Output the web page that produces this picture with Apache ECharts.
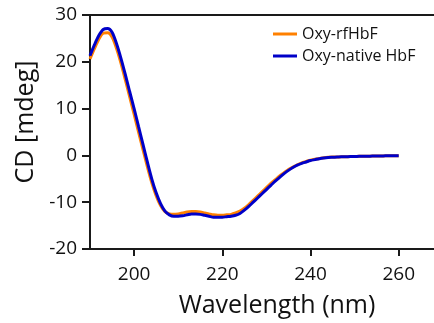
<!DOCTYPE html>
<html>
<head>
<meta charset="utf-8">
<script src="https://cdn.jsdelivr.net/npm/echarts@6/dist/echarts.min.js"></script>
<style>
  html, body { margin: 0; padding: 0; background: #fff; }
  #chart { width: 434px; height: 323px; }
</style>
</head>
<body>
<div id="chart"></div>
<script>
// wavelength (nm), 1 nm steps
var wavelengths = [
  190, 191, 192, 193, 194, 195, 196, 197, 198, 199,
  200, 201, 202, 203, 204, 205, 206, 207, 208, 209,
  210, 211, 212, 213, 214, 215, 216, 217, 218, 219,
  220, 221, 222, 223, 224, 225, 226, 227, 228, 229,
  230, 231, 232, 233, 234, 235, 236, 237, 238, 239,
  240, 241, 242, 243, 244, 245, 246, 247, 248, 249,
  250, 251, 252, 253, 254, 255, 256, 257, 258, 259, 260
];

// CD [mdeg]
var oxyRf = [
  20.6, 22.8, 24.8, 26.1, 26.2, 25.3, 22.9, 19.8, 16.2, 12.5,
  8.8, 5.0, 1.3, -2.4, -5.8, -8.6, -10.7, -12.0, -12.5, -12.6,
  -12.5, -12.3, -12.1, -12.0, -12.0, -12.1, -12.3, -12.5, -12.7, -12.8,
  -12.8, -12.7, -12.6, -12.3, -11.9, -11.3, -10.5, -9.6, -8.7, -7.8,
  -6.9, -6.0, -5.2, -4.4, -3.7, -3.0, -2.5, -2.0, -1.6, -1.3,
  -1.0, -0.8, -0.65, -0.5, -0.4, -0.35, -0.35, -0.3, -0.3, -0.25,
  -0.25, -0.2, -0.2, -0.2, -0.15, -0.15, -0.15, -0.1, -0.1, -0.1, -0.1
];

var oxyNative = [
  21.3, 23.6, 25.6, 26.9, 27.1, 26.3, 23.9, 20.8, 17.3, 13.6,
  10.0, 6.2, 2.4, -1.4, -5.0, -8.0, -10.3, -11.9, -12.7, -13.0,
  -13.0, -12.9, -12.7, -12.5, -12.5, -12.6, -12.8, -13.0, -13.2, -13.2,
  -13.2, -13.1, -13.0, -12.8, -12.4, -11.7, -10.9, -10.0, -9.1, -8.2,
  -7.3, -6.4, -5.5, -4.7, -3.9, -3.2, -2.6, -2.1, -1.7, -1.4,
  -1.1, -0.9, -0.7, -0.55, -0.45, -0.4, -0.35, -0.3, -0.3, -0.25,
  -0.25, -0.2, -0.2, -0.2, -0.15, -0.15, -0.15, -0.1, -0.1, -0.1, -0.1
];

var xTicks = [200, 220, 240, 260];
var seriesNames = ['Oxy-rfHbF', 'Oxy-native HbF'];

function pairs(ys) {
  return wavelengths.map(function (x, i) { return [x, ys[i]]; });
}

var font = 'Open Sans';
var axisColor = '#1a1a1a';

var myChart = echarts.init(document.getElementById('chart'));
myChart.setOption({
  animation: false,
  textStyle: { fontFamily: font, color: '#111' },
  grid: { left: 90, right: 0, top: 15, bottom: 74 },
  legend: {
    orient: 'vertical',
    left: 268,
    top: 21,
    itemWidth: 24,
    itemHeight: 3,
    itemGap: 6,
    icon: 'rect',
    textStyle: { fontFamily: font, fontSize: 16, color: '#111' },
    data: seriesNames
  },
  xAxis: [
    {
      type: 'value',
      min: 190,
      max: 268,
      name: 'Wavelength (nm)',
      nameLocation: 'middle',
      nameGap: 44,
      nameTextStyle: { fontFamily: font, fontSize: 25, color: '#111', padding: [0, 0, 0, 30] },
      splitLine: { show: false },
      axisLine: { onZero: false, lineStyle: { color: axisColor, width: 2 } },
      axisTick: { customValues: xTicks, length: 7, lineStyle: { color: axisColor, width: 2 } },
      axisLabel: { customValues: xTicks, margin: 16, fontSize: 19, color: '#111', fontFamily: font }
    },
    {
      type: 'value',
      position: 'top',
      min: 190,
      max: 268,
      axisLine: { show: true, onZero: false, lineStyle: { color: axisColor, width: 2 } },
      axisTick: { show: false },
      axisLabel: { show: false },
      splitLine: { show: false }
    }
  ],
  yAxis: {
    type: 'value',
    min: -20,
    max: 30,
    interval: 10,
    name: 'CD [mdeg]',
    nameLocation: 'middle',
    nameGap: 52,
    nameTextStyle: { fontFamily: font, fontSize: 25, color: '#111', padding: [0, 0, 0, 20] },
    splitLine: { show: false },
    axisLine: { show: true, lineStyle: { color: axisColor, width: 2 } },
    axisTick: { show: true, length: 8, lineStyle: { color: axisColor, width: 2 } },
    axisLabel: { margin: 13, fontSize: 19, color: '#111', fontFamily: font }
  },
  series: [
    {
      name: seriesNames[0],
      type: 'line',
      data: pairs(oxyRf),
      showSymbol: false,
      smooth: 0.3,
      itemStyle: { color: '#ff8000' },
      lineStyle: { color: '#ff8000', width: 3 }
    },
    {
      name: seriesNames[1],
      type: 'line',
      data: pairs(oxyNative),
      showSymbol: false,
      smooth: 0.3,
      itemStyle: { color: '#0000c8' },
      lineStyle: { color: '#0000c8', width: 3 }
    }
  ]
});
</script>
</body>
</html>
